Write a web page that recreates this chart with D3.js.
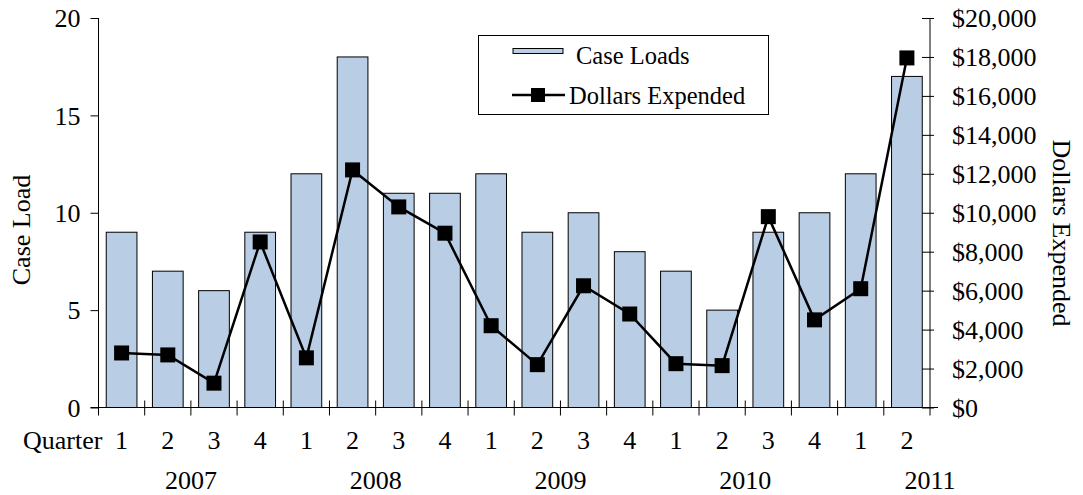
<!DOCTYPE html>
<html>
<head>
<meta charset="utf-8">
<script src="https://cdn.jsdelivr.net/npm/d3@7"></script>
<style>
  body { margin: 0; background: #fff; }
  text { font-family: "Liberation Serif", "Times New Roman", serif; fill: #000; }
</style>
</head>
<body>
<script>
// quarters and values
var quarters = ["1", "2", "3", "4", "1", "2", "3", "4", "1", "2", "3", "4", "1", "2", "3", "4", "1", "2"];
var caseLoads = [9, 7, 6, 9, 12, 18, 11, 11, 12, 9, 10, 8, 7, 5, 9, 10, 12, 17];
var dollars = [2800, 2700, 1250, 8500, 2550, 12200, 10300, 8950, 4200, 2200, 6250, 4800, 2250, 2150, 9800, 4500, 6100, 17950];
var years = ["2007", "2008", "2009", "2010", "2011"];
var yearStart = [0, 4, 8, 12, 16];
var leftTicks = [0, 5, 10, 15, 20];
var rightTicks = [0, 2000, 4000, 6000, 8000, 10000, 12000, 14000, 16000, 18000, 20000];

var width = 1083, height = 495;
var plotL = 98.5, plotR = 930, plotT = 18, plotB = 407.5;

var svg = d3.select("body").append("svg")
    .attr("width", width)
    .attr("height", height);

var idx = d3.range(quarters.length);

var x = d3.scaleBand()
    .domain(idx)
    .range([plotL, plotR])
    .paddingInner(0.335)
    .paddingOuter(0.1675);

var step = x.step();

var yLeft = d3.scaleLinear().domain([0, 20]).range([plotB, plotT]);
var yRight = d3.scaleLinear().domain([0, 20000]).range([plotB, plotT]);

// bars
svg.selectAll("rect.bar")
    .data(caseLoads)
    .enter()
    .append("rect")
    .attr("class", "bar")
    .attr("x", function (d, i) { return x(i); })
    .attr("y", function (d) { return yLeft(d); })
    .attr("width", x.bandwidth())
    .attr("height", function (d) { return plotB - yLeft(d); })
    .style("fill", "#b9cde5")
    .style("stroke", "#000")
    .style("stroke-width", 1);

// left axis
var yAxisL = d3.axisLeft(yLeft).tickValues(leftTicks).tickSize(8).tickPadding(10);
var gL = svg.append("g").attr("transform", "translate(" + plotL + ",0)").call(yAxisL);
gL.select(".domain").attr("d", "M0," + plotT + "V" + plotB);
gL.selectAll("text").style("font-size", "26px").attr("dy", "0.34em");

// right axis, ticks cross the line
var yAxisR = d3.axisRight(yRight).tickValues(rightTicks)
    .tickFormat(function (d) { return "$" + d3.format(",")(d); })
    .tickSize(4).tickPadding(18);
var gR = svg.append("g").attr("transform", "translate(" + plotR + ",0)").call(yAxisR);
gR.select(".domain").attr("d", "M0," + plotT + "V" + plotB);
gR.selectAll(".tick line").attr("x1", -8);
gR.selectAll("text").style("font-size", "26px").attr("dy", "0.34em");

// x axis line and separator ticks
svg.append("line")
    .attr("x1", plotL - 8).attr("x2", plotR + 8)
    .attr("y1", plotB).attr("y2", plotB)
    .style("stroke", "#000");

var seps = d3.range(quarters.length + 1);
svg.selectAll("line.sep")
    .data(seps)
    .enter()
    .append("line")
    .attr("class", "sep")
    .attr("x1", function (d) { return plotL + d * step; })
    .attr("x2", function (d) { return plotL + d * step; })
    .attr("y1", function (d) { return (d === 0 || d === quarters.length) ? plotB : plotB - 7; })
    .attr("y2", plotB + 8)
    .style("stroke", "#000");

// quarter labels
svg.selectAll("text.q")
    .data(quarters)
    .enter()
    .append("text")
    .attr("class", "q")
    .attr("x", function (d, i) { return x(i) + x.bandwidth() / 2; })
    .attr("y", 449)
    .attr("text-anchor", "middle")
    .style("font-size", "26px")
    .text(function (d) { return d; });

svg.append("text")
    .attr("x", 23).attr("y", 449)
    .style("font-size", "26px")
    .text("Quarter");

// year labels, centred on a 4-quarter span
svg.selectAll("text.yr")
    .data(years)
    .enter()
    .append("text")
    .attr("class", "yr")
    .attr("x", function (d, i) { return plotL + (yearStart[i] + 2) * step; })
    .attr("y", 489)
    .attr("text-anchor", "middle")
    .style("font-size", "26px")
    .text(function (d) { return d; });

// dollars line
var line = d3.line()
    .x(function (d, i) { return x(i) + x.bandwidth() / 2; })
    .y(function (d) { return yRight(d); });

svg.append("path")
    .datum(dollars)
    .attr("d", line)
    .style("fill", "none")
    .style("stroke", "#000")
    .style("stroke-width", 2.5);

svg.selectAll("rect.mk")
    .data(dollars)
    .enter()
    .append("rect")
    .attr("class", "mk")
    .attr("x", function (d, i) { return x(i) + x.bandwidth() / 2 - 7.5; })
    .attr("y", function (d) { return yRight(d) - 7.5; })
    .attr("width", 15)
    .attr("height", 15)
    .style("fill", "#000");

// axis titles
svg.append("text")
    .attr("transform", "translate(30,230) rotate(-90)")
    .attr("text-anchor", "middle")
    .style("font-size", "26px")
    .text("Case Load");

svg.append("text")
    .attr("transform", "translate(1053,233) rotate(90)")
    .attr("text-anchor", "middle")
    .style("font-size", "26px")
    .text("Dollars Expended");

// legend
var lg = svg.append("g");
lg.append("rect")
    .attr("x", 478.5).attr("y", 35.5)
    .attr("width", 290).attr("height", 79)
    .style("fill", "#fff")
    .style("stroke", "#000");
lg.append("rect")
    .attr("x", 513).attr("y", 48.5)
    .attr("width", 50).attr("height", 5)
    .style("fill", "#b9cde5")
    .style("stroke", "#000");
lg.append("text")
    .attr("x", 576).attr("y", 64)
    .style("font-size", "24.5px")
    .text("Case Loads");
lg.append("line")
    .attr("x1", 512).attr("x2", 565)
    .attr("y1", 95).attr("y2", 95)
    .style("stroke", "#000")
    .style("stroke-width", 2.5);
lg.append("rect")
    .attr("x", 531).attr("y", 88)
    .attr("width", 14).attr("height", 14)
    .style("fill", "#000");
lg.append("text")
    .attr("x", 569).attr("y", 104)
    .style("font-size", "24.5px")
    .text("Dollars Expended");
</script>
</body>
</html>
